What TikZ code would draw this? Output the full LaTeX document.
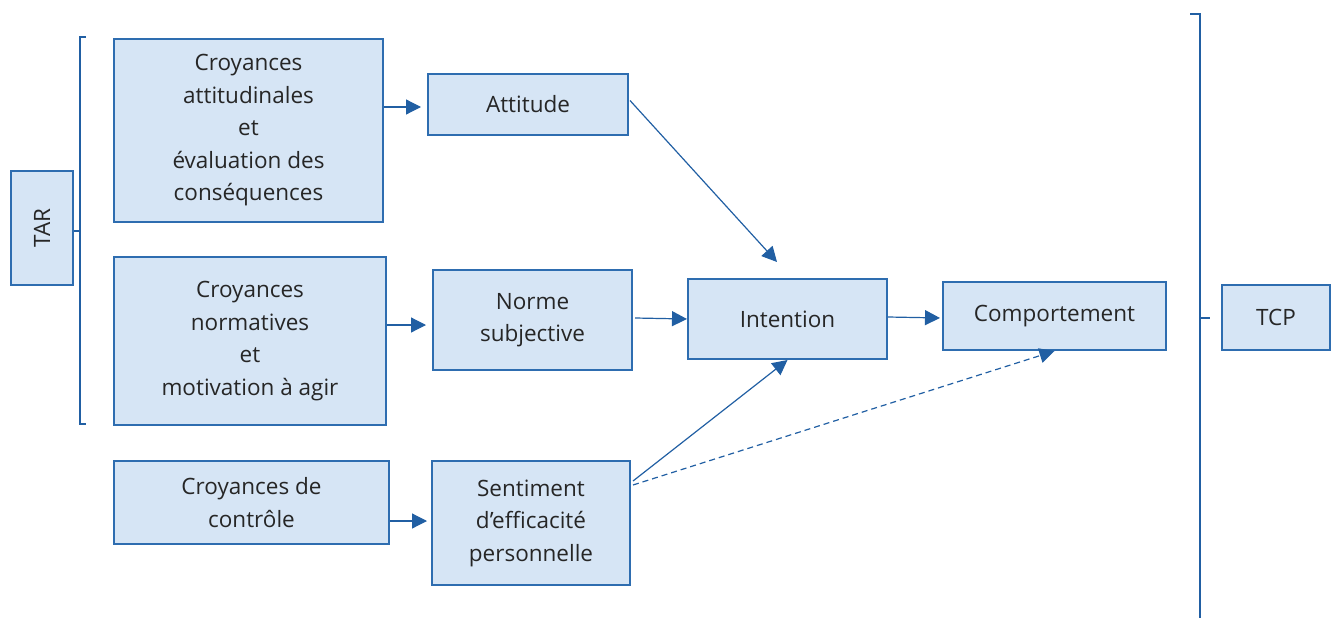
\documentclass[tikz,border=0pt]{standalone}
\usepackage{fontspec}
\setmainfont{Open Sans}
\usetikzlibrary{arrows.meta,calc}
\definecolor{boxfill}{RGB}{214,229,245}
\definecolor{boxdraw}{RGB}{46,109,176}
\definecolor{arrcol}{RGB}{33,95,163}
\definecolor{txt}{RGB}{38,38,38}
\begin{document}
\begin{tikzpicture}[x=1pt,y=-1pt,
  box/.style={draw=boxdraw,fill=boxfill,line width=2pt,inner sep=0pt,align=center,
    text=txt,font=\fontsize{22.5}{32.5}\selectfont},
  arr/.style={draw=arrcol,line width=1.2pt,-{Triangle[length=15pt,width=15pt]}},
  brk/.style={draw=arrcol,line width=1.2pt}]
\useasboundingbox (0,0) rectangle (1332,618);
\node[box,minimum width=62pt,minimum height=114pt] (tar) at (42,228) {\rotatebox{90}{TAR}};
\node[box,minimum width=269pt,minimum height=183pt] (b1) at (248.5,130.5) {Croyances\\attitudinales\\et\\évaluation des\\conséquences};
\node[box,minimum width=200pt,minimum height=61pt] (att) at (528,104.5) {Attitude};
\node[box,minimum width=272pt,minimum height=168pt] (b2) at (250,341) {Croyances\\normatives\\et\\motivation à agir};
\node[box,minimum width=199pt,minimum height=100pt] (norme) at (532.5,320) {Norme\\subjective};
\node[box,minimum width=199pt,minimum height=80pt] (intent) at (787.5,319) {Intention};
\node[box,minimum width=223pt,minimum height=68pt] (comp) at (1054.5,316) {Comportement};
\node[box,minimum width=275pt,minimum height=83pt] (b3) at (251.5,502.5) {Croyances de\\contrôle};
\node[box,minimum width=198pt,minimum height=124pt] (sent) at (531,523) {Sentiment\\d’efficacité\\personnelle};
\node[box,minimum width=108pt,minimum height=65pt] (tcp) at (1276,317.5) {TCP};
% left bracket
\coordinate (lt) at (80,37);
\coordinate (lb) at (80,424);
\coordinate (lm) at (80,231);
\draw[brk] ($(lt)+(6,0)$) -- (lt) -- (lb) -- ($(lb)+(6,0)$);
\draw[brk] (lm) -- (tar.east |- lm);
% right bracket
\coordinate (rt) at (1200,14);
\coordinate (rb) at (1200,618);
\coordinate (rm) at (1200,318);
\draw[brk] ($(rt)+(-10,0)$) -- (rt) -- (rb);
\draw[brk] (rm) -- ($(rm)+(10,0)$);
% arrows
\draw[arr,shorten >=6pt] (b1.east |- 0,107) -- (att.west |- 0,107);
\coordinate (ai) at (777,262);
\draw[arr] ($(att.east)+(1,-4)$) -- (ai);
\draw[arr,shorten >=6pt] (b2.east |- 0,325) -- (norme.west |- 0,325);
\draw[arr] ($(norme.east)+(2,-2)$) -- (intent.west);
\draw[arr,shorten >=2pt] ($(intent.east)+(0,-2)$) -- ($(comp.west)+(0,2)$);
\draw[arr,shorten >=4pt] (b3.east |- 0,521) -- (sent.west |- 0,521);
\draw[arr] ($(sent.north east)+(2,21)$) -- (intent.south);
\draw[arr,dashed,dash pattern=on 6pt off 4pt] ($(sent.north east)+(2,25)$) -- (comp.south);
\end{tikzpicture}
\end{document}
